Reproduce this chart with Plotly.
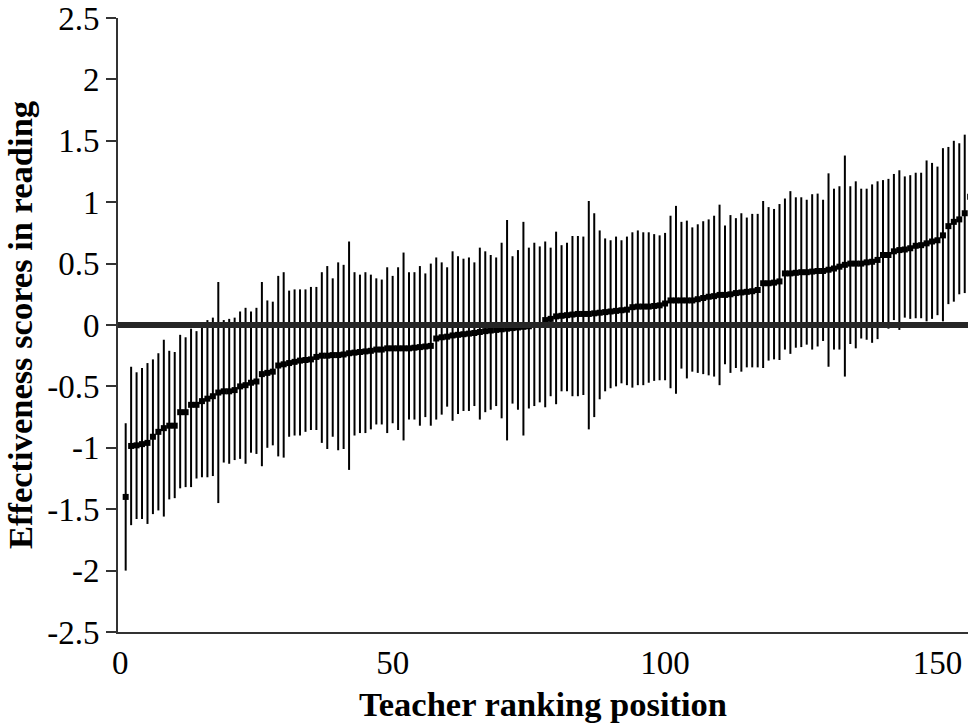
import plotly.graph_objects as go

# ---- data ----
rank = list(range(1, 157))

effect = [
    -1.40, -0.985, -0.98, -0.97, -0.96, -0.91, -0.87, -0.84, -0.82, -0.82,
    -0.71, -0.71, -0.65, -0.65, -0.62, -0.60, -0.58, -0.55, -0.54, -0.54,
    -0.53, -0.50, -0.49, -0.47, -0.46, -0.40, -0.39, -0.38, -0.33, -0.32,
    -0.31, -0.30, -0.29, -0.285, -0.28, -0.26, -0.25, -0.25, -0.245, -0.245,
    -0.24, -0.23, -0.225, -0.22, -0.215, -0.21, -0.20, -0.20, -0.19, -0.19,
    -0.19, -0.19, -0.19, -0.185, -0.18, -0.175, -0.17, -0.11, -0.10, -0.095,
    -0.085, -0.08, -0.075, -0.07, -0.065, -0.057, -0.05, -0.045, -0.04, -0.035,
    -0.03, -0.025, -0.02, -0.015, -0.01, 0.00, 0.00, 0.04, 0.05, 0.07,
    0.075, 0.08, 0.085, 0.09, 0.09, 0.09, 0.095, 0.10, 0.105, 0.11,
    0.115, 0.12, 0.125, 0.145, 0.15, 0.15, 0.15, 0.155, 0.16, 0.175,
    0.20, 0.20, 0.20, 0.20, 0.20, 0.21, 0.22, 0.23, 0.235, 0.245,
    0.245, 0.25, 0.26, 0.265, 0.27, 0.275, 0.285, 0.34, 0.34, 0.345,
    0.355, 0.42, 0.42, 0.425, 0.43, 0.43, 0.435, 0.44, 0.44, 0.45,
    0.46, 0.475, 0.49, 0.50, 0.50, 0.50, 0.51, 0.515, 0.53, 0.57,
    0.57, 0.60, 0.61, 0.615, 0.625, 0.645, 0.65, 0.665, 0.68, 0.69,
    0.73, 0.805, 0.84, 0.86, 0.91, 1.045,
]

lower = [
    -2.00, -1.63, -1.58, -1.58, -1.62, -1.54, -1.51, -1.56, -1.42, -1.41,
    -1.33, -1.32, -1.32, -1.25, -1.24, -1.24, -1.23, -1.45, -1.12, -1.13,
    -1.10, -1.09, -1.13, -1.04, -1.05, -1.15, -1.00, -0.98, -1.07, -1.08,
    -0.91, -0.90, -0.90, -0.87, -0.855, -0.855, -0.96, -1.01, -0.91, -1.02,
    -1.01, -1.18, -0.90, -0.88, -0.88, -0.85, -0.81, -0.81, -0.88, -0.80,
    -0.855, -0.94, -0.77, -0.77, -0.82, -0.75, -0.82, -0.77, -0.73, -0.665,
    -0.78, -0.725, -0.70, -0.70, -0.66, -0.77, -0.71, -0.69, -0.66, -0.76,
    -0.94, -0.64, -0.69, -0.90, -0.68, -0.66, -0.63, -0.67, -0.58, -0.645,
    -0.54, -0.54, -0.58, -0.58, -0.57, -0.85, -0.75, -0.605, -0.54, -0.515,
    -0.50, -0.475, -0.49, -0.51, -0.49, -0.49, -0.47, -0.455, -0.45, -0.45,
    -0.515, -0.56, -0.355, -0.435, -0.38, -0.39, -0.40, -0.41, -0.42, -0.49,
    -0.32, -0.39, -0.35, -0.38, -0.345, -0.345, -0.345, -0.35, -0.29, -0.28,
    -0.285, -0.20, -0.235, -0.185, -0.18, -0.16, -0.20, -0.175, -0.13, -0.34,
    -0.20, -0.20, -0.42, -0.155, -0.19, -0.11, -0.12, -0.145, -0.115, -0.01,
    -0.03, 0.04, -0.04, 0.06, 0.05, 0.055, 0.055, 0.03, 0.05, 0.08,
    0.03, 0.17, 0.19, 0.25, 0.26, 0.40,
]

upper = [
    -0.80, -0.34, -0.385, -0.35, -0.31, -0.28, -0.23, -0.12, -0.21, -0.22,
    -0.08, -0.10, -0.03, -0.05, -0.02, 0.04, 0.06, 0.35, 0.04, 0.05,
    0.06, 0.11, 0.14, 0.11, 0.14, 0.35, 0.20, 0.19, 0.40, 0.43,
    0.28, 0.29, 0.29, 0.29, 0.31, 0.31, 0.43, 0.48, 0.38, 0.51,
    0.49, 0.68, 0.43, 0.41, 0.43, 0.41, 0.38, 0.37, 0.47, 0.40,
    0.47, 0.59, 0.43, 0.43, 0.48, 0.42, 0.50, 0.55, 0.51, 0.47,
    0.60, 0.56, 0.54, 0.55, 0.51, 0.63, 0.60, 0.57, 0.55, 0.67,
    0.855, 0.56, 0.61, 0.84, 0.63, 0.67, 0.64, 0.68, 0.63, 0.76,
    0.65, 0.67, 0.725, 0.725, 0.72, 1.01, 0.91, 0.77, 0.705, 0.69,
    0.72, 0.69, 0.72, 0.755, 0.77, 0.755, 0.755, 0.74, 0.73, 0.75,
    0.89, 0.97, 0.84, 0.85, 0.795, 0.82, 0.845, 0.86, 0.89, 0.98,
    0.81, 0.895, 0.87, 0.91, 0.875, 0.905, 0.905, 1.01, 0.96, 0.945,
    0.985, 1.03, 1.09, 1.04, 1.04, 1.02, 1.065, 1.07, 1.02, 1.235,
    1.11, 1.13, 1.38, 1.13, 1.17, 1.11, 1.11, 1.145, 1.17, 1.18,
    1.19, 1.23, 1.26, 1.21, 1.22, 1.24, 1.24, 1.34, 1.32, 1.29,
    1.44, 1.45, 1.50, 1.48, 1.55, 1.70,
]

x_tickvals = [0, 50, 100, 150]
y_tickvals = [2.5, 2, 1.5, 1, 0.5, 0, -0.5, -1, -1.5, -2, -2.5]
y_ticktext = ["2.5", "2", "1.5", "1", "0.5", "0", "-0.5", "-1", "-1.5", "-2", "-2.5"]

err_plus = [u - e for u, e in zip(upper, effect)]
err_minus = [e - l for e, l in zip(effect, lower)]

FONT = "Liberation Serif"
AXIS = "#333333"

fig = go.Figure()
fig.add_trace(go.Scatter(
    x=rank, y=effect, mode="markers",
    marker=dict(symbol="square", size=6, color="black", line=dict(width=0)),
    error_y=dict(type="data", symmetric=False, array=err_plus, arrayminus=err_minus,
                 width=0, thickness=2, color="black"),
    showlegend=False, hoverinfo="skip",
))

fig.add_shape(type="line", xref="paper", yref="y", x0=0, x1=1, y0=0, y1=0,
              line=dict(color="#262626", width=6), layer="above")

fig.update_layout(
    width=968, height=728,
    margin=dict(l=118, r=0, t=18, b=96),
    plot_bgcolor="white", paper_bgcolor="white",
    showlegend=False,
    xaxis=dict(
        range=[-0.41, 155.6], tickvals=x_tickvals, ticks="",
        showline=True, linecolor=AXIS, linewidth=2, showgrid=False, zeroline=False,
        tickfont=dict(family=FONT, size=33, color="black"),
        ticklabelstandoff=0, automargin=False,
        title=dict(text="Teacher ranking position", standoff=12,
                   font=dict(family=FONT, size=34.5, color="black", weight="bold")),
    ),
    yaxis=dict(
        range=[-2.5, 2.5], tickvals=y_tickvals, ticks="outside", ticktext=y_ticktext,
        ticklen=10, tickwidth=2, tickcolor=AXIS,
        showline=True, linecolor=AXIS, linewidth=2, showgrid=False, zeroline=False,
        tickfont=dict(family=FONT, size=33, color="black"),
        ticklabelstandoff=0, automargin=False,
        title=dict(text="Effectiveness scores in reading", standoff=4,
                   font=dict(family=FONT, size=34.5, color="black", weight="bold")),
    ),
)

fig.write_html("out.html",
               config={"displayModeBar": False, "staticPlot": True},
               post_script="document.body.style.margin='0';document.body.style.overflow='hidden';")
